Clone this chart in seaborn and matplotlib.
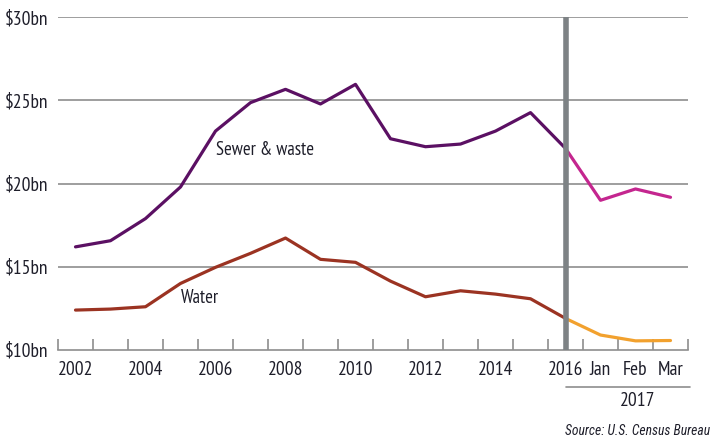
import numpy as np
import pandas as pd
import matplotlib
matplotlib.use("Agg")
import matplotlib.pyplot as plt
import matplotlib.transforms as mtransforms
import seaborn as sns

# categories along the x axis: yearly 2002-2016, then monthly 2017
categories = [str(y) for y in range(2002, 2017)] + ["Jan", "Feb", "Mar"]
tick_labels = ["2002", "", "2004", "", "2006", "", "2008", "", "2010", "",
               "2012", "", "2014", "", "2016", "Jan", "Feb", "Mar"]

sewer = [16.2, 16.57, 17.9, 19.8, 23.16, 24.87, 25.67, 24.79, 25.97,
         22.7, 22.22, 22.38, 23.16, 24.27, 22.12, 19.0, 19.68, 19.18]
water = [12.4, 12.46, 12.6, 14.0, 14.97, 15.81, 16.73, 15.45, 15.27,
         14.14, 13.2, 13.56, 13.36, 13.08, 11.9, 10.9, 10.55, 10.57]

y_ticks = [10, 15, 20, 25, 30]
y_labels = ["\\$10bn", "\\$15bn", "\\$20bn", "\\$25bn", "\\$30bn"]

split = categories.index("2016")

sns.set_style("white")
plt.rcParams["font.family"] = ["PT Sans Narrow", "DejaVu Sans"]
text_col = "#1e1e2a"
grid_col = "#8e8e8e"

pos = np.arange(len(categories))
df = pd.DataFrame({"pos": pos, "sewer": sewer, "water": water})
hist = df[df.pos <= split]
recent = df[df.pos >= split]

fig = plt.figure(figsize=(7.17, 4.42), dpi=100)
ax = fig.add_axes([58 / 717, 92 / 442, 630 / 717, 332.7 / 442])

for v in y_ticks[1:]:
    ax.axhline(v, color=grid_col, lw=1.2, zorder=1)

sns.lineplot(data=hist, x="pos", y="sewer", color="#5b1063", lw=2.3, ax=ax, zorder=3)
sns.lineplot(data=recent, x="pos", y="sewer", color="#c4268f", lw=2.3, ax=ax, zorder=3)
sns.lineplot(data=hist, x="pos", y="water", color="#9b3322", lw=2.3, ax=ax, zorder=3)
sns.lineplot(data=recent, x="pos", y="water", color="#f2a12e", lw=2.3, ax=ax, zorder=3)

ax.axvline(split, color="#7d8285", lw=4, zorder=4)

ax.set_xlim(-0.5, len(categories) - 0.5)
ax.set_ylim(10, 30)
ax.set_xlabel("")
ax.set_ylabel("")

ax.set_xticks(pos)
ax.set_xticklabels(tick_labels, fontsize=14, color=text_col)
ax.set_xticks(np.arange(-0.5, len(categories)), minor=True)
ax.tick_params(axis="x", which="major", length=0, pad=8)
ax.tick_params(axis="x", which="minor", direction="in", length=8, width=1.2,
               color=grid_col, bottom=True)
ax.set_yticks(y_ticks)
ax.set_yticklabels(y_labels, fontsize=14, color=text_col)
ax.tick_params(axis="y", length=0, pad=7)

for s in ["top", "right", "left"]:
    ax.spines[s].set_visible(False)
ax.spines["bottom"].set_color(grid_col)
ax.spines["bottom"].set_linewidth(1.2)

ax.text(4.0, 22.0, "Sewer & waste", fontsize=13.5, color=text_col, va="center")
ax.text(3.0, 13.1, "Water", fontsize=13.5, color=text_col, va="center")

trans = mtransforms.blended_transform_factory(ax.transData, ax.transAxes)
ax.plot([split, len(categories) - 0.45], [-0.111, -0.111], color=grid_col,
        lw=1.2, transform=trans, clip_on=False)
ax.text(16.07, -0.152, "2017", fontsize=14, color=text_col, ha="center",
        va="center", transform=trans)

fig.text(0.99, 0.025, "Source: U.S. Census Bureau", fontsize=9.8,
         style="italic", family=["Roboto Condensed", "DejaVu Sans"],
         color=text_col, ha="right", va="center")

fig.savefig("out.png", dpi=100)
